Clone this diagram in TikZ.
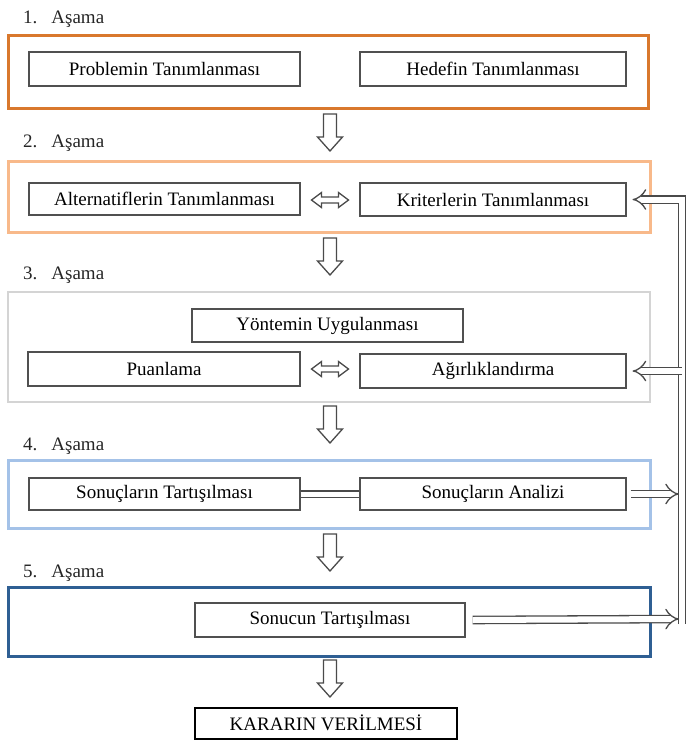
\documentclass[tikz,border=0pt]{standalone}
\usepackage{fontspec}
\setmainfont{Liberation Serif}
\usetikzlibrary{arrows.meta}
\definecolor{cA}{HTML}{D9782D}
\definecolor{cB}{HTML}{F8B98A}
\definecolor{cC}{HTML}{D4D4D4}
\definecolor{cD}{HTML}{A4C2E8}
\definecolor{cE}{HTML}{2F5F93}
\definecolor{boxgray}{HTML}{505050}
\definecolor{arrgray}{HTML}{4A4A4A}
\begin{document}
\begin{tikzpicture}[x=1pt,y=-1pt,
  stagebox/.style={line width=3pt, minimum width=#1, inner sep=0pt},
  inbox/.style={draw=boxgray, line width=1.1pt, inner sep=0pt, font=\fontsize{19}{22}\selectfont, text=black},
  lbl/.style={anchor=base west, inner sep=0pt, font=\fontsize{19}{22}\selectfont, text=black!85},
  hollow/.style={draw=arrgray, fill=white, line width=1.3pt, line join=miter},
  dbl/.style={draw=arrgray, double=white, double distance=6pt, line width=1.3pt, line join=miter},
  fbtip/.style={-{Implies[scale=1.35]}},
  dnarrow/.pic={\draw[hollow] (-6.5,0) -- (6.5,0) -- (6.5,23) -- (12.5,23) -- (0,37) -- (-12.5,23) -- (-6.5,23) -- cycle;},
  lrarrow/.pic={\draw[hollow] (-18.5,0) -- (-8.5,-7.5) -- (-8.5,-3) -- (8.5,-3) -- (8.5,-7.5) -- (18.5,0) -- (8.5,7.5) -- (8.5,3) -- (-8.5,3) -- (-8.5,7.5) -- cycle;}
]
\useasboundingbox (0,0) rectangle (686,740);

% stage labels
\node[lbl] (l1) at (23,23) {1.\hspace{14pt}Aşama};
\node[lbl] (l2) at (23,147) {2.\hspace{14pt}Aşama};
\node[lbl] (l3) at (23,279) {3.\hspace{14pt}Aşama};
\node[lbl] (l4) at (23,450) {4.\hspace{14pt}Aşama};
\node[lbl] (l5) at (23,577) {5.\hspace{14pt}Aşama};

% stage boxes
\node[draw=cA, stagebox=640pt, minimum height=73pt] (s1) at (328,71.5) {};
\node[draw=cB, stagebox=642pt, minimum height=71pt] (s2) at (329,196.5) {};
\node[draw=cC, stagebox=642pt, minimum height=110pt, line width=2.5pt] (s3) at (329,347) {};
\node[draw=cD, stagebox=642pt, minimum height=68pt] (s4) at (329,494) {};
\node[draw=cE, stagebox=642pt, minimum height=69pt] (s5) at (329,621.5) {};

% inner boxes
\node[inbox, minimum width=271pt, minimum height=34pt] (pt) at (164.5,69) {Problemin Tanımlanması};
\node[inbox, minimum width=266pt, minimum height=34pt] (ht) at (493,69) {Hedefin Tanımlanması};
\node[inbox, minimum width=271pt, minimum height=32pt] (at) at (164.5,199) {Alternatiflerin Tanımlanması};
\node[inbox, minimum width=266pt, minimum height=33pt] (kt) at (493,199.5) {Kriterlerin Tanımlanması};
\node[inbox, minimum width=271pt, minimum height=33pt] (yu) at (327.5,325.5) {Yöntemin Uygulanması};
\node[inbox, minimum width=272pt, minimum height=34pt] (pu) at (164,369) {Puanlama};
\node[inbox, minimum width=266pt, minimum height=34pt] (ag) at (493,371) {Ağırlıklandırma};
\node[inbox, minimum width=271pt, minimum height=32pt] (stt) at (164.5,494) {Sonuçların Tartışılması};
\node[inbox, minimum width=266pt, minimum height=32pt] (san) at (493,494) {Sonuçların Analizi};
\node[inbox, minimum width=270pt, minimum height=34pt] (snt) at (330,620) {Sonucun Tartışılması};
\node[inbox, draw=black, line width=2pt, minimum width=262pt, minimum height=31pt] (kv) at (326,723) {KARARIN VERİLMESİ};

% down arrows
\pic at (330,114) {dnarrow};
\pic at (330,238) {dnarrow};
\pic at (330,406) {dnarrow};
\pic at (330,534) {dnarrow};
\pic at (330,660) {dnarrow};

% left-right arrows
\pic at (330,200) {lrarrow};
\pic at (330,369) {lrarrow};

% equals connector
\draw[dbl, double distance=5pt] (stt.east) -- (san.west);

% feedback connectors
\coordinate (vb) at (682,624);
\draw[dbl, fbtip] (vb) -- (vb |- kt.east) -- ([xshift=6pt]kt.east);
\draw[dbl, fbtip] (vb |- ag.east) -- ([xshift=6pt]ag.east);
\draw[dbl, fbtip] ([xshift=4pt]san.east) -- (679,494);
\draw[dbl, fbtip] ([xshift=7pt]snt.east) -- (679,619);
\end{tikzpicture}
\end{document}
